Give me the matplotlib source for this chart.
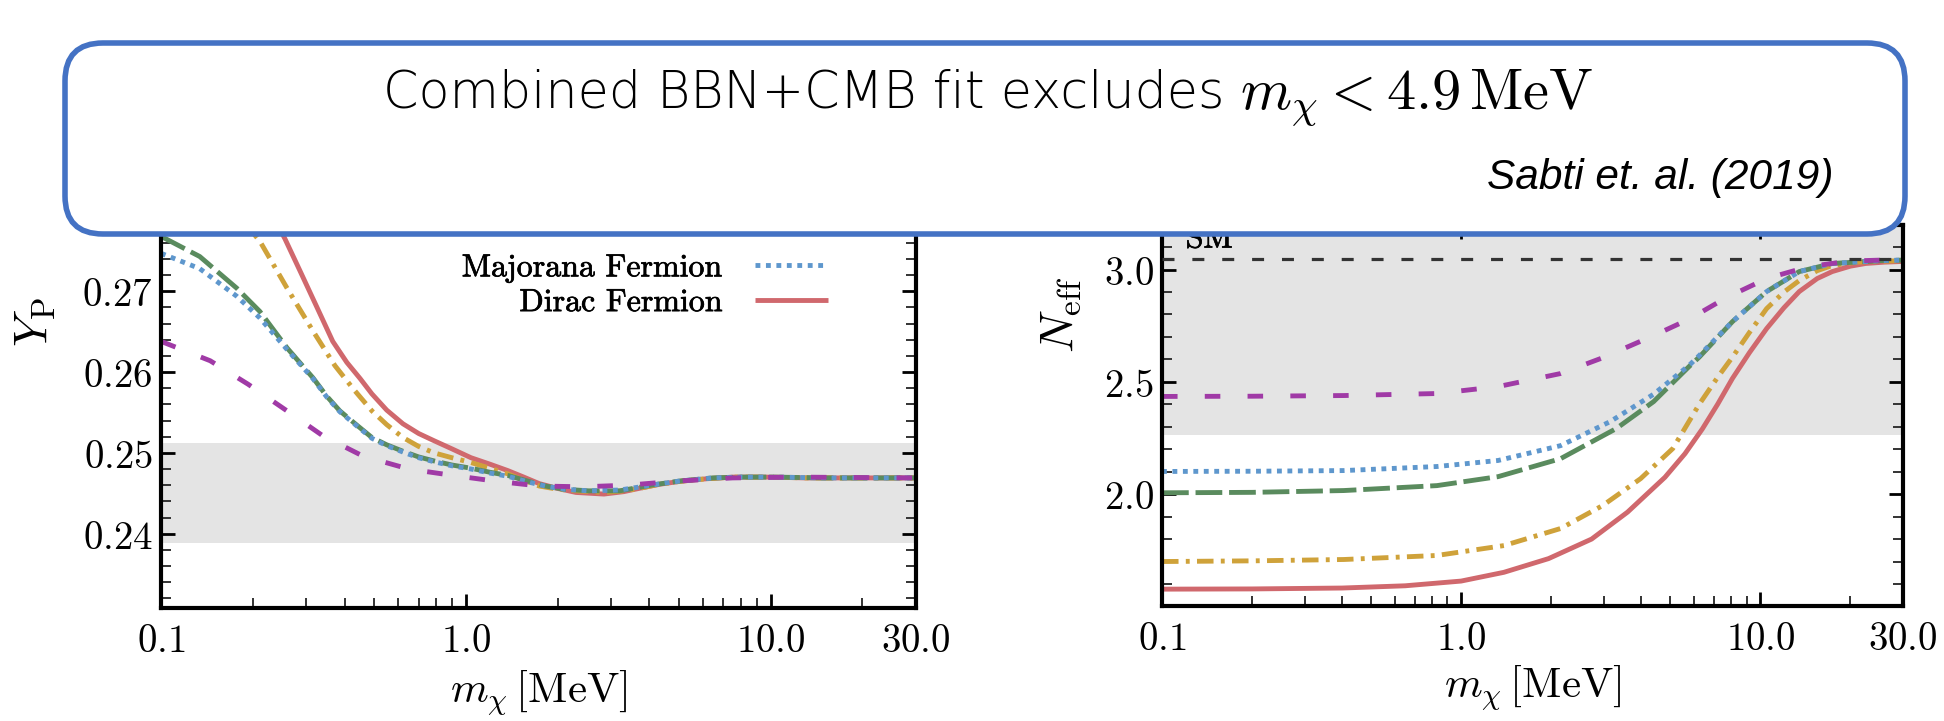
import matplotlib

matplotlib.use("Agg")

import matplotlib.patheffects as pe
import matplotlib.pyplot as plt
from matplotlib.patches import FancyBboxPatch
from matplotlib.ticker import FixedFormatter, FixedLocator, LogLocator, MultipleLocator, NullFormatter
from matplotlib.transforms import IdentityTransform

plt.rcParams["mathtext.fontset"] = "cm"

# ---- helium abundance Y_P vs dark-sector mass (MeV) ----
yp_red_m = [0.1, 0.13, 0.17, 0.21, 0.255, 0.286, 0.325, 0.366, 0.407, 0.45, 0.492, 0.55, 0.622, 0.7,
            0.787, 0.9, 1.04, 1.2, 1.375, 1.55, 1.74, 2.0, 2.3, 2.84, 3.3, 3.7, 4.3, 5.1, 6.2, 7.5,
            10.0, 13.0, 20.0, 30.0]
yp_red = [0.2935, 0.2915, 0.2875, 0.2825, 0.2765, 0.2725, 0.268, 0.2638, 0.2612, 0.2592, 0.2573, 0.2553,
          0.2536, 0.2524, 0.2515, 0.2505, 0.2494, 0.2486, 0.2478, 0.2470, 0.2462, 0.2456, 0.2451, 0.2449,
          0.2452, 0.2456, 0.2461, 0.2465, 0.2468, 0.2470, 0.2470, 0.2469, 0.2469, 0.2469]

yp_gold_m = [0.1, 0.13, 0.17, 0.211, 0.259, 0.315, 0.372, 0.43, 0.492, 0.55, 0.622, 0.7, 0.787, 0.9,
             1.04, 1.2, 1.375, 1.55, 1.74, 2.0, 2.32, 2.84, 3.3, 3.7, 4.3, 5.1, 6.2, 7.5, 10.0, 13.0,
             20.0, 30.0]
yp_gold = [0.2875, 0.2855, 0.2805, 0.2762, 0.2704, 0.2651, 0.2608, 0.2578, 0.2552, 0.2535, 0.2519,
           0.2508, 0.2500, 0.2494, 0.2488, 0.2481, 0.2474, 0.2466, 0.2459, 0.2455, 0.2453, 0.2451,
           0.2453, 0.2456, 0.2461, 0.2465, 0.2468, 0.2470, 0.2470, 0.2469, 0.2469, 0.2469]

yp_green_m = [0.1, 0.134, 0.177, 0.211, 0.259, 0.315, 0.35, 0.386, 0.44, 0.492, 0.55, 0.622, 0.7, 0.787,
              0.9, 1.04, 1.2, 1.375, 1.6, 1.82, 2.1, 2.53, 3.2, 4.05, 5.0, 6.45, 8.0, 10.3, 15.0, 30.0]
yp_green = [0.2768, 0.2743, 0.2704, 0.2675, 0.2630, 0.2593, 0.2570, 0.2552, 0.2534, 0.2519, 0.2510,
            0.2502, 0.2495, 0.2490, 0.2485, 0.2481, 0.2476, 0.2472, 0.2465, 0.2459, 0.2455, 0.2453,
            0.2453, 0.2460, 0.2465, 0.2469, 0.2470, 0.2470, 0.2469, 0.2469]

yp_blue_m = [0.1, 0.134, 0.177, 0.211, 0.259, 0.315, 0.35, 0.386, 0.44, 0.492, 0.55, 0.622, 0.7, 0.787,
             0.9, 1.04, 1.2, 1.375, 1.6, 1.82, 2.1, 2.53, 3.2, 4.05, 5.0, 6.45, 8.0, 10.3, 15.0, 30.0]
yp_blue = [0.2747, 0.2728, 0.2694, 0.2667, 0.2628, 0.2592, 0.2569, 0.2551, 0.2533, 0.2518, 0.2509,
           0.2501, 0.2494, 0.2489, 0.2484, 0.2480, 0.2475, 0.2471, 0.2464, 0.2459, 0.2455, 0.2453,
           0.2454, 0.2460, 0.2465, 0.2469, 0.2470, 0.2470, 0.2469, 0.2469]

yp_purple_m = [0.1, 0.145, 0.193, 0.259, 0.34, 0.46, 0.65, 0.91, 1.25, 1.74, 2.42, 3.4, 4.9, 7.5, 12.0, 30.0]
yp_purple = [0.2638, 0.2614, 0.2585, 0.2552, 0.2521, 0.2496, 0.2480, 0.2472, 0.2465, 0.2459, 0.2458,
             0.2460, 0.2465, 0.2469, 0.2470, 0.2469]

yp_band = (0.2388, 0.2512)

# ---- effective number of neutrinos N_eff vs mass (MeV) ----
neff_red_m = [0.1, 0.2, 0.4, 0.65, 1.0, 1.39, 1.96, 2.73, 3.6, 4.8, 5.6, 6.4, 7.2, 8.07, 9.2, 10.5, 12.0,
              13.5, 15.5, 17.4, 20.0, 22.5, 26.0, 30.0]
neff_red = [1.577, 1.578, 1.582, 1.592, 1.613, 1.652, 1.713, 1.800, 1.920, 2.075, 2.18, 2.29, 2.40, 2.515,
            2.63, 2.737, 2.83, 2.902, 2.96, 2.991, 3.015, 3.027, 3.033, 3.036]

neff_gold_m = [0.1, 0.2, 0.405, 0.83, 1.39, 2.15, 2.97, 3.98, 5.1, 6.25, 7.2, 8.07, 9.2, 10.5, 12.0, 13.5,
               15.5, 17.4, 21.0, 30.0]
neff_gold = [1.700, 1.703, 1.709, 1.727, 1.771, 1.847, 1.949, 2.069, 2.203, 2.40, 2.52, 2.61, 2.72, 2.826,
             2.90, 2.951, 2.995, 3.018, 3.033, 3.04]

neff_green_m = [0.1, 0.2, 0.405, 0.83, 1.33, 2.15, 3.3, 4.4, 5.8, 6.25, 8.07, 10.5, 13.5, 17.4, 25.5, 30.0]
neff_green = [2.006, 2.008, 2.016, 2.038, 2.078, 2.158, 2.292, 2.412, 2.57, 2.61, 2.768, 2.902, 2.991,
              3.027, 3.04, 3.042]

neff_blue_m = [0.1, 0.2, 0.405, 0.83, 1.33, 2.15, 3.15, 4.4, 5.8, 6.25, 8.07, 10.5, 13.5, 17.4, 25.5, 30.0]
neff_blue = [2.101, 2.102, 2.105, 2.123, 2.150, 2.216, 2.323, 2.445, 2.575, 2.617, 2.768, 2.902, 2.991,
             3.027, 3.04, 3.042]

neff_purple_m = [0.1, 0.2, 0.405, 0.83, 1.33, 2.15, 2.97, 4.4, 5.8, 7.7, 10.5, 14.5, 20.0, 30.0]
neff_purple = [2.435, 2.436, 2.439, 2.448, 2.479, 2.537, 2.607, 2.706, 2.78, 2.875, 2.96, 3.013, 3.038, 3.045]

neff_band = (2.265, 3.4)
neff_sm = 3.045

mass_ticks = [0.1, 1.0, 10.0, 30.0]
mass_tick_labels = ["0.1", "1.0", "10.0", "30.0"]
yp_ticks = [0.24, 0.25, 0.26, 0.27]
neff_ticks = [2.0, 2.5, 3.0]

legend_labels = ["Majorana Fermion", "Dirac Fermion"]
headline = "Combined BBN+CMB fit excludes"
headline_math = r"$m_\chi < 4.9\,\mathrm{MeV}$"
citation = "Sabti et. al. (2019)"

RED = "#d0686d"
GOLD = "#cfa23a"
GREEN = "#5a8b5e"
BLUE = "#5e97cd"
PURPLE = "#a03aa6"
BAND = "#e4e4e4"
BOX_EDGE = "#4472c4"

W, H = 1944, 721
LW = 3.5


def frac_rect(left, top, right, bottom):
    """Pixel box (origin top-left) -> figure fraction rect."""
    return [left / W, 1 - bottom / H, (right - left) / W, (bottom - top) / H]


def style_axes(ax, yticks, fmt, minor_step):
    ax.set_xscale("log")
    ax.set_xlim(0.1, 30.0)
    ax.xaxis.set_major_locator(FixedLocator(mass_ticks))
    ax.xaxis.set_major_formatter(FixedFormatter(["$%s$" % t for t in mass_tick_labels]))
    ax.xaxis.set_minor_locator(LogLocator(base=10, subs=range(2, 10)))
    ax.xaxis.set_minor_formatter(NullFormatter())
    ax.yaxis.set_major_locator(FixedLocator(yticks))
    ax.yaxis.set_major_formatter(FixedFormatter([fmt % t for t in yticks]))
    ax.yaxis.set_minor_locator(MultipleLocator(minor_step))
    ax.tick_params(which="both", direction="in", top=True, right=True)
    ax.tick_params(which="major", length=10, width=2.0, labelsize=28)
    ax.tick_params(which="minor", length=7, width=1.4, color="#333333")
    ax.tick_params(axis="x", which="major", pad=10)
    ax.tick_params(axis="y", which="major", pad=6)
    for spine in ax.spines.values():
        spine.set_linewidth(3.0)
    ax.set_xlabel(r"$m_\chi\,[\mathrm{MeV}]$", fontsize=31)


def draw_curves(ax, series):
    lines = {}
    for key, m, v, color, ls in series:
        (line,) = ax.plot(m, v, color=color, lw=LW, linestyle=ls, solid_capstyle="butt",
                          dash_capstyle="butt")
        lines[key] = line
    return lines


fig = plt.figure(figsize=(W / 100, H / 100), dpi=100)

dotted = (0, (1.0, 1.15))
long_dash = (0, (5.5, 1.4))
short_dash = (0, (3.2, 5.6))
dash_dot = (0, (3.4, 1.5, 0.8, 1.5))
heavier = [pe.withStroke(linewidth=0.5, foreground="black")]

# left panel: primordial helium
ax_l = fig.add_axes(frac_rect(161, 608 - (0.28 - 0.2308) * 8080, 916, 608))
ax_l.set_ylim(0.2308, 0.28)
ax_l.axhspan(*yp_band, color=BAND, lw=0, zorder=0)
left_lines = draw_curves(ax_l, [
    ("red", yp_red_m, yp_red, RED, "-"),
    ("gold", yp_gold_m, yp_gold, GOLD, dash_dot),
    ("green", yp_green_m, yp_green, GREEN, long_dash),
    ("blue", yp_blue_m, yp_blue, BLUE, dotted),
    ("purple", yp_purple_m, yp_purple, PURPLE, short_dash),
])
style_axes(ax_l, yp_ticks, "$%.2f$", 0.002)
ax_l.set_ylabel(r"$Y_{\rm P}$", fontsize=34)
ax_l.yaxis.set_label_coords(-0.136, 0.72)
ax_l.xaxis.set_label_coords(0.5, -0.151)

leg = ax_l.legend([left_lines["blue"], left_lines["red"]], legend_labels,
                  prop={"family": "cmr10", "size": 23}, markerfirst=False, frameon=False,
                  handlelength=2.3, handletextpad=1.0, labelspacing=0.2, borderpad=0,
                  loc="upper right", bbox_to_anchor=(844 / W, 1 - 238 / H),
                  bbox_transform=fig.transFigure)
for t in leg.get_texts():
    t.set_path_effects(heavier)

# right panel: effective neutrino number
ax_r = fig.add_axes(frac_rect(1162, 606 - (3.2 - 1.502) * 224.6, 1903, 606))
ax_r.set_ylim(1.502, 3.2)
ax_r.axhspan(*neff_band, color=BAND, lw=0, zorder=0)
draw_curves(ax_r, [
    ("red", neff_red_m, neff_red, RED, "-"),
    ("gold", neff_gold_m, neff_gold, GOLD, dash_dot),
    ("green", neff_green_m, neff_green, GREEN, long_dash),
    ("blue", neff_blue_m, neff_blue, BLUE, dotted),
    ("purple", neff_purple_m, neff_purple, PURPLE, short_dash),
])
ax_r.axhline(neff_sm, color="#333333", lw=2.3, linestyle=(0, (3.75, 5.6)), zorder=3)
ax_r.text(0.12, 3.098, "SM", fontfamily="cmr10", fontsize=23, va="baseline", path_effects=heavier)
style_axes(ax_r, neff_ticks, "$%.1f$", 0.1)
ax_r.set_ylabel(r"$N_{\rm eff}$", fontsize=34)
ax_r.yaxis.set_label_coords(-0.107, 0.765)
ax_r.xaxis.set_label_coords(0.5, -0.149)

# rounded call-out box across the top of both panels
box = FancyBboxPatch((65, 721 - 234), 1840, 191, boxstyle="round,pad=0,rounding_size=38",
                     transform=IdentityTransform(), facecolor="white", edgecolor=BOX_EDGE,
                     linewidth=4.0, zorder=5)
fig.add_artist(box)

fig.text(1224 / W, 1 - 108 / H, headline, fontfamily="DejaVu Sans", fontweight="light",
         fontsize=36.5, ha="right", va="baseline", zorder=6)
fig.text(1240 / W, 1 - 109 / H, headline_math, fontsize=42, ha="left", va="baseline", zorder=6)
fig.text(1833 / W, 1 - 189 / H, citation, fontfamily="Liberation Sans", fontstyle="italic",
         fontsize=30.5, ha="right", va="baseline", zorder=6)

fig.savefig("out.png", dpi=100)
